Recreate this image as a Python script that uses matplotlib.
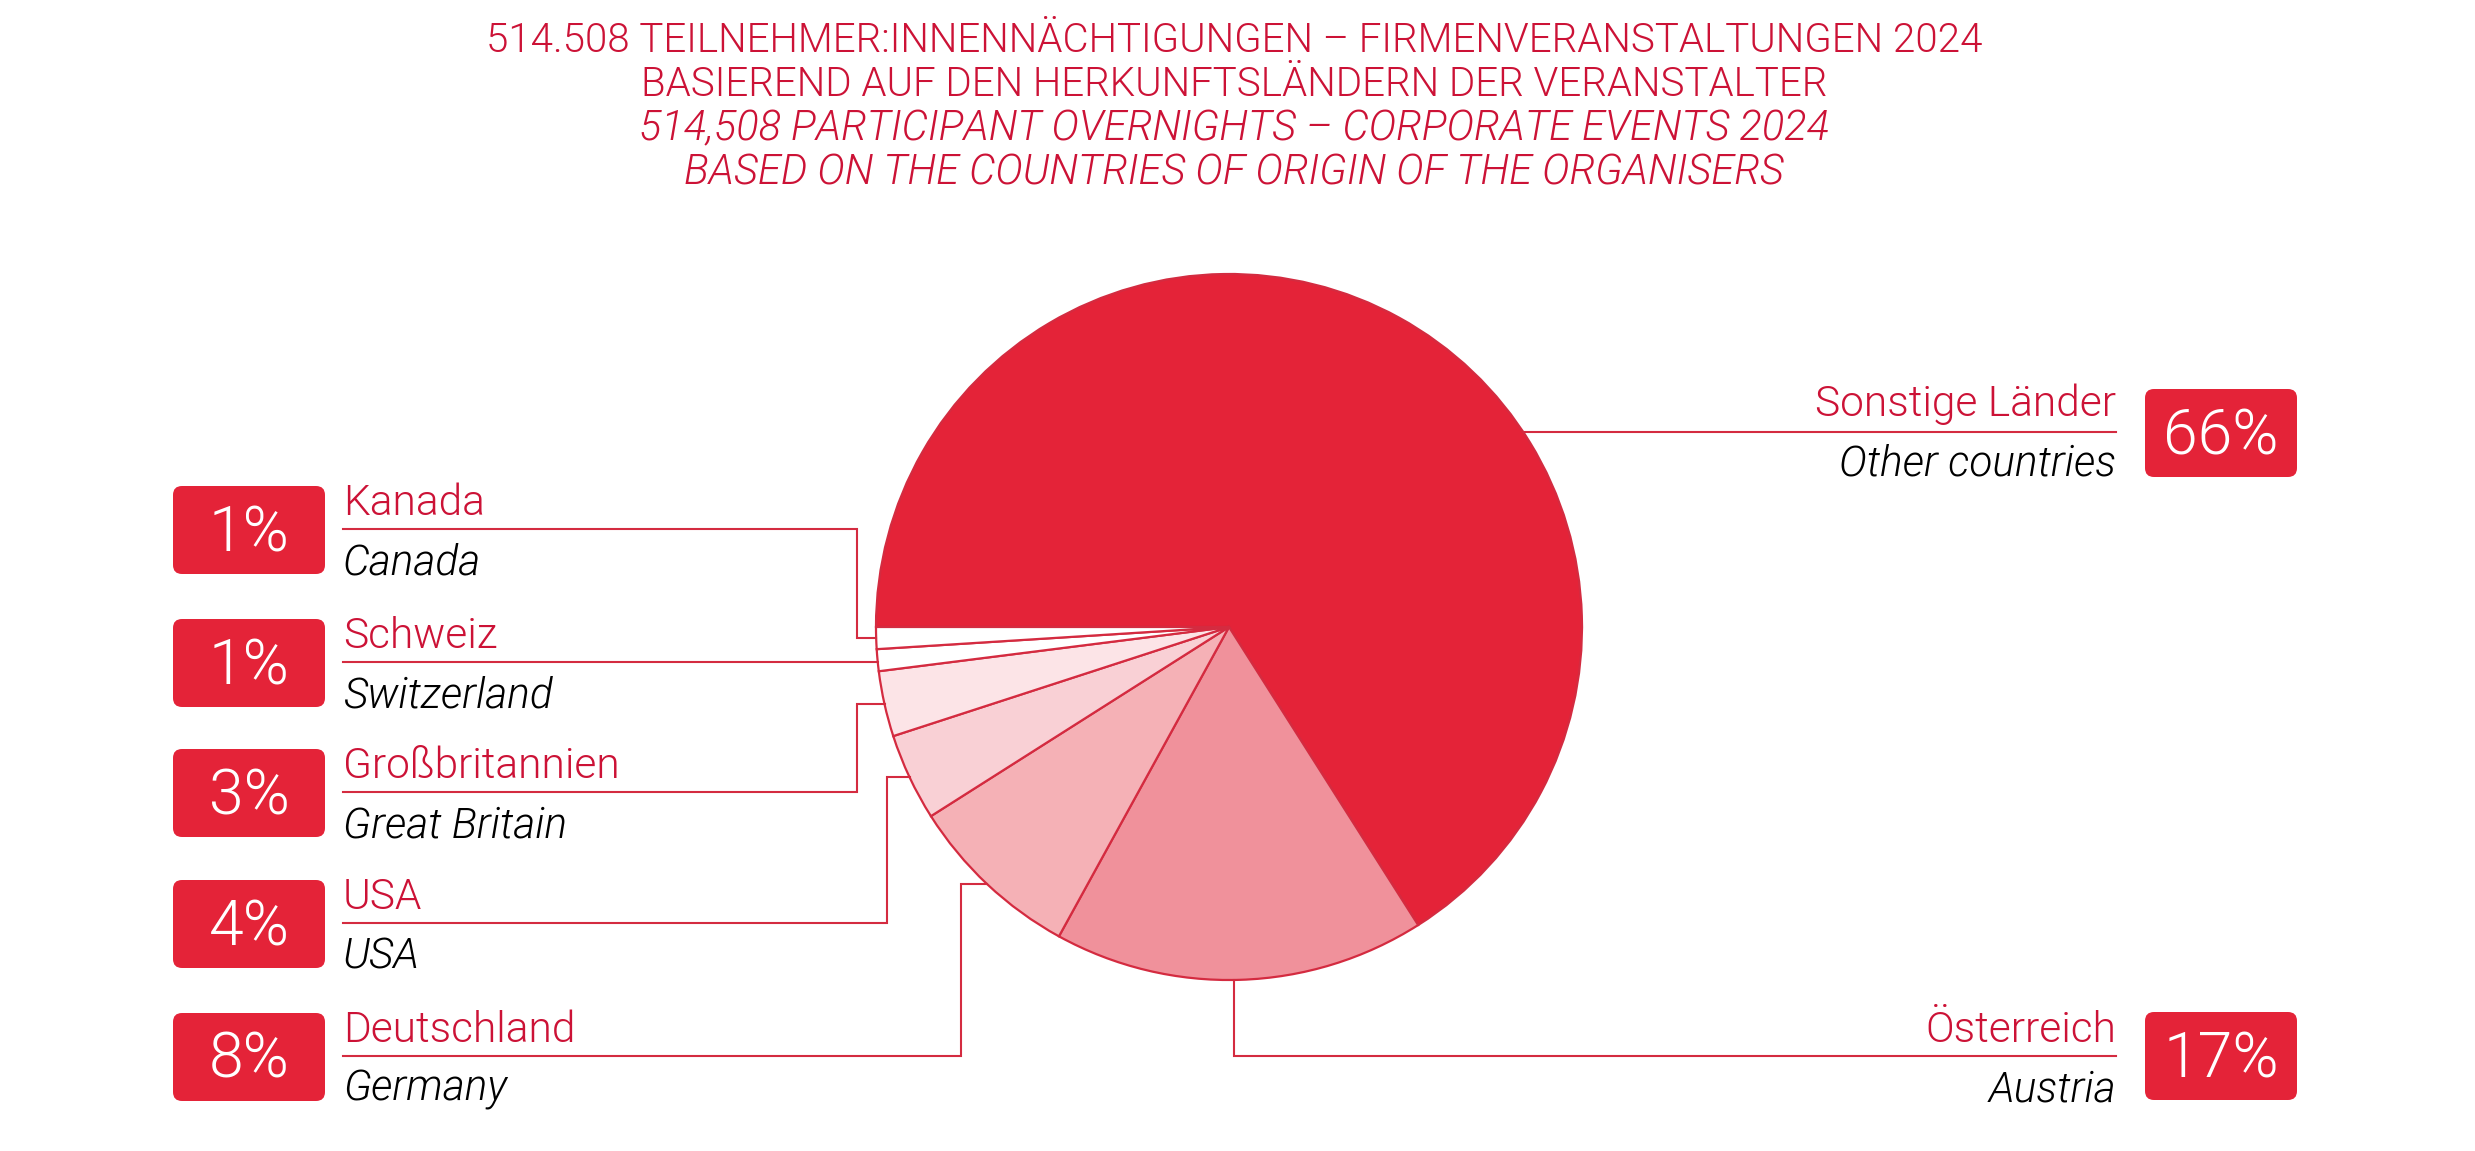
import numpy as np
import matplotlib.pyplot as plt
from matplotlib.patches import FancyBboxPatch

plt.rcParams['font.family'] = ['Roboto', 'DejaVu Sans']

# Daten
laender_de = ['Sonstige Länder', 'Österreich', 'Deutschland', 'USA', 'Großbritannien', 'Schweiz', 'Kanada']
laender_en = ['Other countries', 'Austria', 'Germany', 'USA', 'Great Britain', 'Switzerland', 'Canada']
anteile = [66, 17, 8, 4, 3, 1, 1]
farben = ['#E42338', '#F0919B', '#F5B1B6', '#F9D0D5', '#FCE4E7', '#FFFFFF', '#FFFFFF']

titel = [
    '514.508 TEILNEHMER:INNENNÄCHTIGUNGEN – FIRMENVERANSTALTUNGEN 2024',
    'BASIEREND AUF DEN HERKUNFTSLÄNDERN DER VERANSTALTER',
    '514,508 PARTICIPANT OVERNIGHTS – CORPORATE EVENTS 2024',
    'BASED ON THE COUNTRIES OF ORIGIN OF THE ORGANISERS',
]

ROT = '#E42338'
ROT_TEXT = '#CC1236'
LINIE = '#D42B40'

W, H = 2475, 1151
fig = plt.figure(figsize=(W / 100, H / 100), dpi=100)
ax = fig.add_axes([0, 0, 1, 1])

# Kreis (Pixelkoordinaten, y nach unten)
cx, cy, r = 1229, 627, 353
wedges, _ = ax.pie(anteile, colors=farben, startangle=180, counterclock=True,
                   center=(cx, cy), radius=r,
                   wedgeprops=dict(edgecolor=LINIE, linewidth=1.6))
ax.set_xlim(0, W)
ax.set_ylim(H, 0)
ax.set_aspect('equal')
ax.axis('off')


def rand_punkt(w):
    mid = np.deg2rad((w.theta1 + w.theta2) / 2)
    return cx + r * np.cos(mid), cy + r * np.sin(mid)


def badge(x0, yc, text):
    b = FancyBboxPatch((x0, yc - 44), 152, 88,
                       boxstyle='round,pad=0,rounding_size=9',
                       facecolor=ROT, edgecolor='none')
    ax.add_patch(b)
    ax.text(x0 + 76, yc + 21, text, color='white', fontsize=45, fontweight=300,
            ha='center', va='baseline')


def beschriftung(x, ly, de, en, ha):
    ax.text(x, ly - 14, de, color=ROT_TEXT, fontsize=30.5, fontweight=300,
            ha=ha, va='baseline')
    ax.text(x, ly + 45, en, color='black', fontsize=30.5, fontweight=300,
            style='italic', ha=ha, va='baseline')


lw = 1.5

# linke Seite: Kanada, Schweiz, GB, USA, Deutschland
links = [6, 5, 4, 3, 2]
zeilen_y = [529, 662, 792, 923, 1056]
knick_x = [857, None, 857, 887, 961]
x_text = 343
for i, ly, kx in zip(links, zeilen_y, knick_x):
    px, py = rand_punkt(wedges[i])
    if kx is None:
        xs = [x_text, cx - np.sqrt(r ** 2 - (ly - cy) ** 2)]
        ys = [ly, ly]
    else:
        xs = [x_text, kx, kx, px]
        ys = [ly, ly, py, py]
    ax.plot(xs, ys, color=LINIE, lw=lw, solid_joinstyle='miter')
    beschriftung(x_text, ly, laender_de[i], laender_en[i], 'left')
    badge(173, ly + 1, f'{anteile[i]}%')

# rechte Seite: Sonstige Länder, Österreich
x_rechts = 2116
ly = 432
ax.plot([cx + np.sqrt(r ** 2 - (ly - cy) ** 2), x_rechts], [ly, ly], color=LINIE, lw=lw)
beschriftung(x_rechts, ly - 2, laender_de[0], laender_en[0], 'right')
badge(2145, ly + 1, f'{anteile[0]}%')

px, py = rand_punkt(wedges[1])
px -= 6
ly = 1056
ax.plot([px, px, x_rechts], [py, ly, ly], color=LINIE, lw=lw, solid_joinstyle='miter')
beschriftung(x_rechts, ly, laender_de[1], laender_en[1], 'right')
badge(2145, ly, f'{anteile[1]}%')

# Titel
for k, zeile in enumerate(titel):
    kursiv = k >= 2
    ax.text(1234, 52 + k * 44, zeile, color=ROT_TEXT, fontsize=30 if kursiv else 29,
            fontweight=300, style='italic' if kursiv else 'normal',
            ha='center', va='baseline')

fig.savefig('out.png', dpi=100)
